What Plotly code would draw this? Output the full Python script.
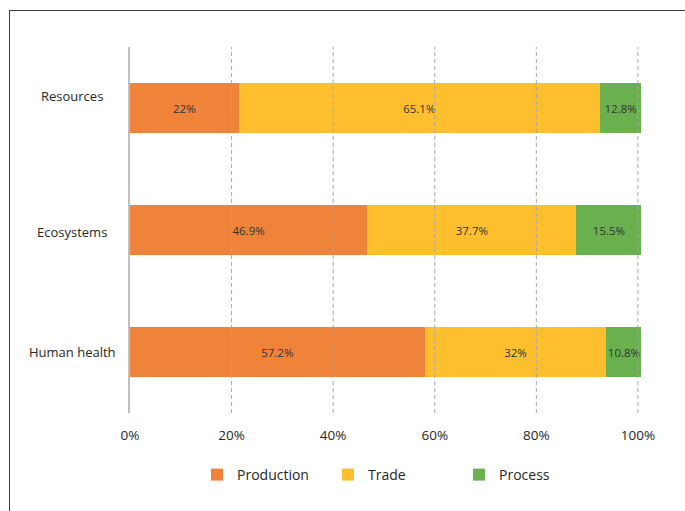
import plotly.graph_objects as go

categories = ["Resources", "Ecosystems", "Human health"]
# values printed on the segments
production_label = [22, 46.9, 57.2]
trade_label = [65.1, 37.7, 32]
process_label = [12.8, 15.5, 10.8]
# segment lengths as drawn in the picture (percent of axis)
production = [21.4, 46.7, 58.0]
trade = [71.1, 41.2, 35.8]
process = [8.2, 12.8, 6.9]
series_names = ["Production", "Trade", "Process"]
tick_vals = [0, 20, 40, 60, 80, 100]
tick_text = ["0%", "20%", "40%", "60%", "80%", "100%"]

colors = ["#F0833A", "#FDBF2D", "#6AB04F"]
FONT = "Open Sans"

fig = go.Figure()
for name, vals, labs, col in zip(series_names,
                                 [production, trade, process],
                                 [production_label, trade_label, process_label],
                                 colors):
    fig.add_trace(go.Bar(
        y=categories, x=vals, name=name, orientation="h",
        marker=dict(color=col, line=dict(width=0)),
        text=[f"{v:g}%" for v in labs], textposition="inside",
        insidetextanchor="middle", constraintext="none", textangle=0,
        textfont=dict(family=FONT, size=11.5, color="#333333"),
        cliponaxis=False,
        hoverinfo="skip", width=0.41,
    ))

W, H = 685, 511
L, R, T, B = 130, 42, 47, 98
pw = W - L - R
ph = H - T - B

def px2paper_x(px):
    return (px - L) / pw

def px2paper_y(py):
    return (H - B - py) / ph

label_shift = [12, -2, 0]
for cat, ys in zip(categories, label_shift):
    fig.add_annotation(x=px2paper_x(72), xref="paper", y=cat, yref="y",
                       text=cat, showarrow=False, xanchor="center",
                       yshift=ys,
                       font=dict(family=FONT, size=13, color="#262626"))

# dashed gridlines drawn above the bars
for tv in tick_vals[1:]:
    fig.add_shape(type="line", xref="x", yref="paper", x0=tv, x1=tv,
                  y0=0, y1=1, layer="above",
                  line=dict(color="#A6A6A6", width=1, dash="4px,3px"))

# frame lines (top and left)
fig.add_shape(type="line", xref="paper", yref="paper",
              x0=px2paper_x(9.5), x1=px2paper_x(9.5),
              y0=px2paper_y(10), y1=px2paper_y(530),
              line=dict(color="#3a3a3a", width=1))
fig.add_shape(type="line", xref="paper", yref="paper",
              x0=px2paper_x(9.5), x1=px2paper_x(700),
              y0=px2paper_y(10.5), y1=px2paper_y(10.5),
              line=dict(color="#3a3a3a", width=1))

fig.update_layout(
    width=W, height=H,
    margin=dict(l=L, r=R, t=T, b=B),
    barmode="stack",
    plot_bgcolor="white", paper_bgcolor="white",
    font=dict(family=FONT, color="#333333"),
    uniformtext=dict(minsize=11, mode="show"),
    showlegend=True,
    legend=dict(orientation="h", traceorder="normal",
                x=px2paper_x(197), xanchor="left",
                y=px2paper_y(475), yanchor="middle",
                font=dict(family=FONT, size=14, color="#262626"),
                entrywidth=86, entrywidthmode="pixels",
                itemclick=False, itemdoubleclick=False),
    xaxis=dict(range=[0, 101], tickvals=tick_vals, ticktext=tick_text,
               showgrid=False, zeroline=False, showline=False,
               ticks="outside", ticklen=10, tickcolor="rgba(0,0,0,0)",
               tickfont=dict(family=FONT, size=13.5, color="#262626"),
               fixedrange=True),
    yaxis=dict(categoryorder="array", categoryarray=categories,
               autorange="reversed", showticklabels=False,
               showgrid=False, zeroline=False,
               showline=True, linecolor="#BFBFBF", linewidth=2,
               fixedrange=True),
)

fig.write_html("out.html")
